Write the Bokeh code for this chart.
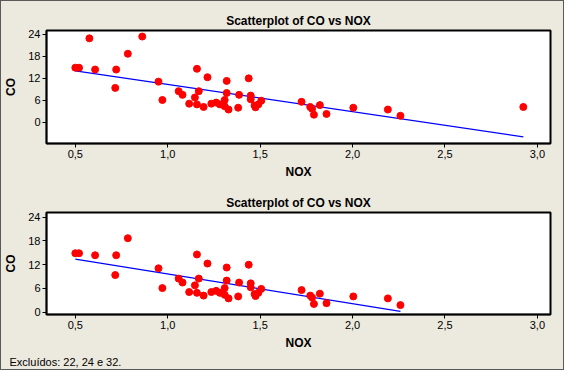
import numpy as np
from bokeh.plotting import figure
from bokeh.layouts import column
from bokeh.models import Range1d, FixedTicker, CustomJSTickFormatter, Title
from bokeh.embed import file_html
from bokeh.resources import INLINE

# ---- data ----
nox = [0.500, 0.520, 0.576, 0.607, 0.716, 0.721, 0.784, 0.862, 0.950, 0.971,
       1.059, 1.080, 1.116, 1.147, 1.158, 1.158, 1.168, 1.194, 1.215, 1.236,
       1.262, 1.282, 1.308, 1.308, 1.319, 1.319, 1.329, 1.381, 1.386, 1.438,
       1.449, 1.449, 1.470, 1.475, 1.490, 1.506, 1.724, 1.771, 1.781, 1.791,
       1.823, 1.859, 2.004, 2.191, 2.259, 2.924]
co = [14.9, 14.9, 22.9, 14.4, 9.4, 14.4, 18.7, 23.4, 11.1, 6.1,
      8.5, 7.5, 5.1, 6.8, 14.6, 4.9, 8.5, 4.2, 12.3, 5.1,
      5.4, 4.9, 6.1, 4.4, 11.3, 8.0, 3.5, 4.0, 7.5, 12.0,
      7.3, 6.3, 4.6, 4.1, 4.9, 5.9, 5.6, 4.2, 3.7, 2.1,
      4.7, 2.3, 4.0, 3.5, 1.8, 4.2]
excluded = [2, 7, 45]          # positions of the excluded rows (22, 24 e 32)
x_ticks = [0.5, 1.0, 1.5, 2.0, 2.5, 3.0]
y_ticks = [0, 6, 12, 18, 24]
title_text = "Scatterplot of CO vs NOX"
x_label = "NOX"
y_label = "CO"
footnote = "Excluídos: 22, 24 e 32."

BG = "#ECE9DF"
FONT = "Liberation Sans"


def make_fig(height, yr, mb_top, mb_bottom, xs, ys, title_standoff):
    p = figure(width=562, height=height,
               x_range=Range1d(0.344, 3.071), y_range=Range1d(*yr),
               output_backend="svg", toolbar_location=None,
               min_border_left=41, min_border_right=13,
               min_border_top=mb_top, min_border_bottom=mb_bottom,
               background_fill_color="white", border_fill_color=BG,
               outline_line_color="black", outline_line_width=2)
    p.title.text = title_text
    p.title.align = "center"
    p.title.text_font = FONT
    p.title.text_font_style = "bold"
    p.title.text_font_size = "12px"
    p.title.text_color = "black"
    p.title.standoff = title_standoff
    p.xgrid.visible = False
    p.ygrid.visible = False
    for ax in (p.xaxis[0], p.yaxis[0]):
        ax.major_tick_in = 0
        ax.major_tick_out = 4
        ax.minor_tick_line_color = None
        ax.axis_line_color = "black"
        ax.axis_line_width = 1.5
        ax.major_tick_line_color = "black"
        ax.major_label_text_font = FONT
        ax.major_label_text_font_size = "11px"
        ax.major_label_text_color = "black"
        ax.major_label_standoff = 2
        ax.axis_label_text_font = FONT
        ax.axis_label_text_font_style = "bold"
        ax.axis_label_text_font_size = "12px"
        ax.axis_label_text_color = "black"
    p.xaxis[0].axis_label = x_label
    p.yaxis[0].axis_label = y_label
    p.xaxis[0].axis_label_standoff = 4
    p.yaxis[0].axis_label_standoff = 7
    p.xaxis[0].ticker = FixedTicker(ticks=x_ticks)
    p.yaxis[0].ticker = FixedTicker(ticks=y_ticks)
    p.xaxis[0].formatter = CustomJSTickFormatter(
        code="return tick.toFixed(1).replace('.', ',');")
    p.yaxis[0].formatter = CustomJSTickFormatter(code="return tick.toFixed(0);")

    xs = np.array(xs)
    ys = np.array(ys)
    b, a = np.polyfit(xs, ys, 1)
    lx = np.array([xs.min(), xs.max()])
    p.line(lx, a + b * lx, line_color="#0000FF", line_width=1.2)
    p.scatter(xs, ys, size=7, fill_color="#FF0000", line_color="#FF0000")
    return p


p1 = make_fig(180, (-5.76, 25.04), 29, 31, nox, co, 6)

keep = [i for i in range(len(nox)) if i not in excluded]
nox2 = [nox[i] for i in keep]
co2 = [co[i] for i in keep]
p2 = make_fig(188, (-0.57, 25.2), 31, 43, nox2, co2, 6)
note = Title(text=footnote, align="left", offset=-37, standoff=3,
             text_font=FONT, text_font_style="normal",
             text_font_size="11px", text_color="black")
p2.add_layout(note, "below")

layout = column(p1, p2, spacing=0,
                styles={"border": "1px solid #5a5a5a", "background": BG})

open("out.html", "w").write(file_html(layout, INLINE))
